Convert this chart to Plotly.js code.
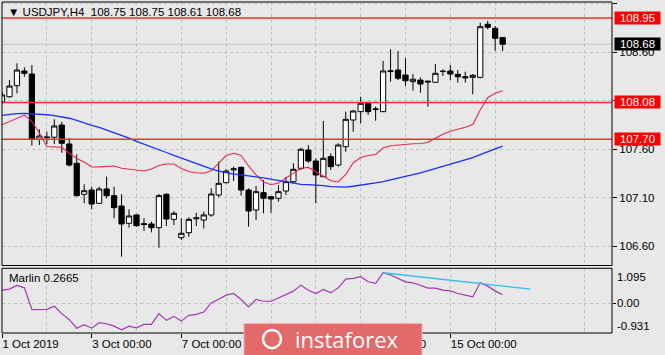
<!DOCTYPE html>
<html><head><meta charset="utf-8">
<script src="https://cdn.plot.ly/plotly-3.0.1.min.js"></script>
<style>html,body{margin:0;padding:0;background:#e8e8e8;overflow:hidden}#chart{width:665px;height:355px}</style>
</head><body><div id="chart"></div>
<script>
// ---------------- data ----------------
const symbol = 'USDJPY,H4';
const openP = [108.085,108.139,108.253,108.404,108.373,107.700,107.725,107.721,107.847,107.652,
107.453,107.133,107.177,107.040,107.188,107.119,107.012,106.834,106.920,106.830,
106.827,106.789,107.133,106.875,106.686,106.737,106.880,106.868,106.920,107.126,
107.253,107.385,107.411,107.177,106.971,107.150,107.108,107.092,107.167,107.263,
107.401,107.590,107.476,107.314,107.521,107.435,107.624,107.899,107.985,108.071,
108.008,107.985,108.398,108.414,108.363,108.294,108.311,108.300,108.288,108.398,
108.404,108.370,108.345,108.339,108.339,108.886,108.844,108.75];
const highP = [108.188,108.311,108.483,108.442,108.466,107.803,107.778,107.906,107.881,107.710,
107.545,107.236,107.211,107.211,107.314,107.211,107.133,106.978,106.927,106.886,
106.851,107.136,107.143,106.961,106.886,106.896,106.943,106.954,107.195,107.469,
107.391,107.418,107.418,107.195,107.219,107.280,107.108,107.229,107.314,107.453,
107.613,107.641,107.504,107.889,107.556,107.659,107.985,108.002,108.139,108.088,
108.036,108.507,108.628,108.610,108.535,108.373,108.339,108.301,108.476,108.421,
108.466,108.414,108.397,108.373,108.902,108.920,108.868,108.75];
const lowP = [108.064,108.126,108.174,108.345,107.634,107.641,107.650,107.652,107.562,107.418,
107.110,107.040,106.978,107.033,107.092,106.886,106.490,106.789,106.799,106.755,
106.741,106.582,106.806,106.816,106.662,106.696,106.806,106.782,106.902,107.102,
107.246,107.270,107.119,106.799,106.868,106.937,106.943,107.057,107.126,107.246,
107.384,107.459,107.040,107.314,107.384,107.418,107.572,107.778,107.865,107.951,
107.892,107.985,108.294,108.311,108.249,108.201,108.180,108.036,108.284,108.353,
108.311,108.284,108.284,108.164,108.329,108.834,108.613,108.61];
const closeP = [108.157,108.249,108.414,108.380,107.700,107.734,107.718,107.837,107.659,107.435,
107.119,107.170,107.033,107.188,107.119,106.995,106.827,106.909,106.809,106.822,
106.789,107.119,106.878,106.937,106.731,106.875,106.890,106.920,107.136,107.246,
107.373,107.395,107.177,106.961,107.160,107.092,107.085,107.160,107.263,107.391,
107.597,107.476,107.332,107.504,107.418,107.641,107.906,107.992,108.071,107.985,
108.012,108.404,108.405,108.329,108.304,108.319,108.270,108.292,108.380,108.402,
108.373,108.345,108.335,108.360,108.861,108.855,108.741,108.68];
const maFast = [107.850,107.882,107.915,107.950,107.883,107.765,107.626,107.621,107.617,107.556,
107.502,107.466,107.414,107.416,107.420,107.425,107.401,107.391,107.380,107.373,
107.394,107.430,107.445,107.445,107.399,107.368,107.355,107.350,107.375,107.456,
107.533,107.556,107.533,107.425,107.334,107.260,107.231,107.250,107.301,107.358,
107.402,107.410,107.370,107.322,107.273,107.260,107.337,107.456,107.512,107.533,
107.543,107.610,107.634,107.643,107.650,107.654,107.657,107.667,107.711,107.752,
107.784,107.801,107.824,107.852,108.002,108.129,108.174,108.201];
const maSlow = [107.947,107.958,107.964,107.968,107.965,107.960,107.953,107.943,107.932,107.917,
107.894,107.865,107.843,107.824,107.797,107.770,107.743,107.713,107.678,107.651,
107.623,107.594,107.564,107.534,107.505,107.478,107.450,107.421,107.395,107.372,
107.356,107.341,107.334,107.327,107.313,107.302,107.288,107.272,107.258,107.245,
107.236,107.232,107.229,107.222,107.213,107.207,107.207,107.216,107.226,107.238,
107.250,107.264,107.280,107.297,107.317,107.335,107.355,107.377,107.401,107.424,
107.446,107.466,107.486,107.512,107.542,107.571,107.600,107.629];
const marlin = [0.410,0.442,0.559,0.483,-0.199,-0.189,-0.189,-0.095,-0.325,-0.514,
-0.780,-0.672,-0.780,-0.609,-0.641,-0.716,-0.830,-0.716,-0.767,-0.663,
-0.663,-0.325,-0.536,-0.410,-0.559,-0.379,-0.347,-0.275,0.009,0.126,
0.253,0.306,0.117,-0.117,0.117,0.063,0.063,0.167,0.275,0.379,
0.568,0.410,0.306,0.432,0.325,0.483,0.757,0.780,0.830,0.672,
0.622,0.956,0.884,0.780,0.672,0.641,0.568,0.473,0.473,0.410,
0.388,0.306,0.253,0.199,0.641,0.537,0.388,0.2665];
const marlinRange = [-0.931, 1.095];
const trendBars = [51, 70.7];
const trendVals = [0.956, 0.442];
const levels = [108.95, 108.08, 107.70];
const priceTicks = [106.6, 107.1, 107.6, 108.1, 108.6, 109.1];
const tickBars = [0, 12, 24, 36, 48, 60];
const tickLabels = ['1 Oct 2019', '3 Oct 00:00', '7 Oct 00:00', '9 Oct 00:00', '11 Oct 00:00', '15 Oct 00:00'];
const gridBars = [6, 18, 30, 42, 54, 66, 78];
const bars = openP.map((_, i) => i);

// ---------------- layout helpers ----------------
const FONT = 'Liberation Sans, Arial, sans-serif';
const W = 665, H = 355, ML = 2, MR = 53, MT = 2, MB = 22;
const PW = W - ML - MR, PH = H - MT - MB;
const px = x => (x - ML) / PW;
const py = y => (H - MB - y) / PH;
const GRID = '#c2c2c2';
const last = openP.length - 1;
const f2 = v => v.toFixed(2);

const traces = [
  {type: 'candlestick', x: bars, open: openP, high: highP, low: lowP, close: closeP,
   xaxis: 'x', yaxis: 'y', whiskerwidth: 0, hoverinfo: 'skip',
   increasing: {line: {color: '#000', width: 1}, fillcolor: '#ffffff'},
   decreasing: {line: {color: '#000', width: 1}, fillcolor: '#000000'}},
  {type: 'scatter', mode: 'lines', x: bars, y: maFast, xaxis: 'x', yaxis: 'y',
   line: {color: '#e32a4c', width: 1.1}, hoverinfo: 'skip'},
  {type: 'scatter', mode: 'lines', x: bars, y: maSlow, xaxis: 'x', yaxis: 'y',
   line: {color: '#1f2dff', width: 1.3}, hoverinfo: 'skip'},
  {type: 'scatter', mode: 'lines', x: bars, y: marlin, xaxis: 'x', yaxis: 'y2',
   line: {color: '#a23aae', width: 1.2}, hoverinfo: 'skip'},
  {type: 'scatter', mode: 'lines', x: trendBars, y: trendVals, xaxis: 'x', yaxis: 'y2',
   line: {color: '#2fbdf0', width: 1.3}, hoverinfo: 'skip'}
];

const shapes = [];
// bid line
shapes.push({type: 'line', xref: 'x domain', yref: 'y', x0: 0, x1: 1, y0: closeP[last], y1: closeP[last],
  line: {color: '#c4c4c4', width: 1}, layer: 'below'});
levels.forEach(v => shapes.push({type: 'line', xref: 'x domain', yref: 'y', x0: 0, x1: 1, y0: v, y1: v,
  line: {color: '#ff2a2a', width: 1.6}, layer: 'above'}));
// panel borders
shapes.push({type: 'rect', xref: 'x domain', yref: 'y domain', x0: 0, x1: 1, y0: 0, y1: 1,
  line: {color: '#000', width: 1}, layer: 'above'});
shapes.push({type: 'rect', xref: 'x domain', yref: 'y2 domain', x0: 0, x1: 1, y0: 0, y1: 1,
  line: {color: '#000', width: 1}, layer: 'above'});
// watermark box
shapes.push({type: 'rect', xref: 'paper', yref: 'paper', x0: px(244), x1: px(422), y0: py(356), y1: py(323.5),
  fillcolor: '#e26a6a', line: {color: '#f3b0b0', width: 1}, layer: 'above'});
// watermark icon
shapes.push({type: 'circle', xref: 'paper', yref: 'paper', x0: px(263), x1: px(281), y0: py(348), y1: py(330),
  line: {color: '#ffffff', width: 2.5}, layer: 'above'});

const annotations = [];
annotations.push({xref: 'paper', yref: 'paper', x: 0, y: py(12), xanchor: 'left', yanchor: 'middle', xshift: 4,
  showarrow: false, font: {family: FONT, size: 11.5, color: '#000'},
  text: '▼ ' + symbol + '\u00A0\u00A0' + [openP[last], highP[last], lowP[last], closeP[last]].map(f2).join(' ')});
annotations.push({xref: 'paper', yref: 'paper', x: 0, y: py(278), xanchor: 'left', yanchor: 'middle', xshift: 5,
  showarrow: false, font: {family: FONT, size: 11.5, color: '#000'},
  text: 'Marlin ' + marlin[last].toFixed(4)});
levels.forEach(v => annotations.push({xref: 'paper', yref: 'y', x: 1, y: v, xanchor: 'left', yanchor: 'middle', xshift: 2,
  showarrow: false, bgcolor: '#ff0000', width: 45, height: 12, borderpad: 0, align: 'center',
  font: {family: FONT, size: 11.5, color: '#ffffff'}, text: f2(v)}));
annotations.push({xref: 'paper', yref: 'y', x: 1, y: closeP[last], xanchor: 'left', yanchor: 'middle', xshift: 2,
  showarrow: false, bgcolor: '#000000', width: 45, height: 12, borderpad: 0, align: 'center',
  font: {family: FONT, size: 11.5, color: '#ffffff'}, text: f2(closeP[last])});
// lower panel scale labels
annotations.push({xref: 'paper', yref: 'y2', x: 1, y: marlinRange[1], xanchor: 'left', yanchor: 'middle', xshift: 3, yshift: -9,
  showarrow: false, font: {family: FONT, size: 11.5, color: '#000'}, text: marlinRange[1].toFixed(3)});
annotations.push({xref: 'paper', yref: 'y2', x: 1, y: 0, xanchor: 'left', yanchor: 'middle', xshift: 3,
  showarrow: false, font: {family: FONT, size: 11.5, color: '#000'}, text: '0.00'});
annotations.push({xref: 'paper', yref: 'y2', x: 1, y: marlinRange[0], xanchor: 'left', yanchor: 'middle', xshift: 3, yshift: 7,
  showarrow: false, font: {family: FONT, size: 11.5, color: '#000'}, text: marlinRange[0].toFixed(3)});
// watermark text
annotations.push({xref: 'paper', yref: 'paper', x: px(347), y: py(339), xanchor: 'center', yanchor: 'middle',
  showarrow: false, font: {family: 'Open Sans, sans-serif', size: 22, color: '#ffffff'}, text: 'instaforex'});

const layout = {
  width: W, height: H, margin: {l: ML, r: MR, t: MT, b: MB, pad: 0},
  paper_bgcolor: '#e8e8e8', plot_bgcolor: '#e8e8e8', showlegend: false, hovermode: false,
  boxgap: 0.3, boxgroupgap: 0,
  xaxis: {anchor: 'y2', range: [(ML + 1 - 3) / 7.46 + (ML - ML), (612 - 3) / 7.46], 
    tickmode: 'array', tickvals: tickBars, ticktext: tickLabels, ticks: 'outside', ticklen: 4, tickcolor: '#000',
    ticklabelposition: 'outside right', tickfont: {family: FONT, size: 11.5, color: '#000'},
    showgrid: true, gridcolor: GRID, griddash: '3px,3px', gridwidth: 1,
    minor: {tickmode: 'array', tickvals: gridBars, showgrid: true, gridcolor: GRID, griddash: '3px,3px', gridwidth: 1, ticks: ''},
    zeroline: false, showline: false, rangeslider: {visible: false}, fixedrange: true},
  yaxis: {domain: [(H - MB - 265.5) / PH, 1], anchor: 'x', side: 'right',
    range: [108.6 - (265.5 - 52) / 97, 108.6 + (52 - MT) / 97],
    tickmode: 'array', tickvals: priceTicks, ticktext: priceTicks.map(f2), ticks: 'outside', ticklen: 4, tickcolor: '#000',
    tickfont: {family: FONT, size: 11.5, color: '#000'},
    showgrid: true, gridcolor: GRID, griddash: '3px,3px', zeroline: false, showline: false, fixedrange: true},
  yaxis2: {domain: [0, (H - MB - 268.3) / PH], anchor: 'x', side: 'right', range: marlinRange,
    tickmode: 'array', tickvals: [0], showticklabels: false, ticks: 'outside', ticklen: 3, tickcolor: '#000',
    showgrid: true, gridcolor: GRID, griddash: '3px,3px', zeroline: false, showline: false, fixedrange: true},
  shapes: shapes, annotations: annotations
};

Plotly.newPlot('chart', traces, layout, {staticPlot: true, displayModeBar: false});
</script></body></html>
